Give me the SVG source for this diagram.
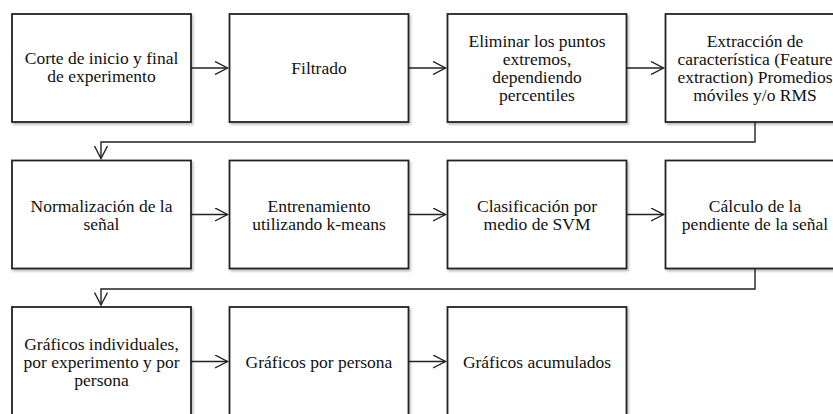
<svg xmlns="http://www.w3.org/2000/svg" width="833" height="414" viewBox="0 0 833 414">
<defs>
<filter id="sh" x="-5%" y="-5%" width="115%" height="115%">
<feDropShadow dx="1.5" dy="2" stdDeviation="1.2" flood-color="#000" flood-opacity="0.25"/>
</filter>
<marker id="arr" viewBox="0 0 14 14" refX="13" refY="7" markerWidth="14" markerHeight="14" markerUnits="userSpaceOnUse" orient="auto">
<path d="M0.5,0.5 L13,7 L0.5,13.5" fill="none" stroke="#222" stroke-width="1.4"/>
</marker>
<style>
.box{fill:#fff;stroke:#222;stroke-width:1.8;filter:url(#sh)}
.lbl{font-family:'Liberation Serif','Times New Roman',serif;font-size:17.5px;fill:#111;text-anchor:middle}
.c{fill:none;stroke:#222;stroke-width:1.4}
</style>
</defs>
<rect width="833" height="414" fill="#fff"/>
<g id="n1"><rect class="box" x="12" y="14" width="179" height="108"/><text class="lbl" x="101.5" y="64">Corte de inicio y final</text><text class="lbl" x="101.5" y="82">de experimento</text></g>
<g id="n2"><rect class="box" x="229.5" y="14" width="179" height="108"/><text class="lbl" x="319" y="74">Filtrado</text></g>
<g id="n3"><rect class="box" x="447.5" y="14" width="179" height="108"/><text class="lbl" x="537" y="46.5">Eliminar los puntos</text><text class="lbl" x="537" y="64.5">extremos,</text><text class="lbl" x="537" y="82.5">dependiendo</text><text class="lbl" x="537" y="100.5">percentiles</text></g>
<g id="n4"><rect class="box" x="665.5" y="14" width="179" height="108"/><text class="lbl" x="755" y="46.5">Extracción de</text><text class="lbl" x="755" y="64.5">característica (Feature</text><text class="lbl" x="755" y="82.5">extraction) Promedios</text><text class="lbl" x="755" y="100.5">móviles y/o RMS</text></g>
<g id="n5"><rect class="box" x="12" y="160.5" width="179" height="108"/><text class="lbl" x="101.5" y="211.5">Normalización de la</text><text class="lbl" x="101.5" y="229.5">señal</text></g>
<g id="n6"><rect class="box" x="229.5" y="160.5" width="179" height="108"/><text class="lbl" x="319" y="211.5">Entrenamiento</text><text class="lbl" x="319" y="229.5">utilizando k-means</text></g>
<g id="n7"><rect class="box" x="447.5" y="160.5" width="179" height="108"/><text class="lbl" x="537" y="211.5">Clasificación por</text><text class="lbl" x="537" y="229.5">medio de SVM</text></g>
<g id="n8"><rect class="box" x="665.5" y="160.5" width="179" height="108"/><text class="lbl" x="755" y="211.5">Cálculo de la</text><text class="lbl" x="755" y="229.5">pendiente de la señal</text></g>
<g id="n9"><rect class="box" x="12" y="307" width="179" height="108"/><text class="lbl" x="101.5" y="350">Gráficos individuales,</text><text class="lbl" x="101.5" y="368">por experimento y por</text><text class="lbl" x="101.5" y="386">persona</text></g>
<g id="n10"><rect class="box" x="229.5" y="307" width="179" height="108"/><text class="lbl" x="319" y="368">Gráficos por persona</text></g>
<g id="n11"><rect class="box" x="447.5" y="307" width="179" height="108"/><text class="lbl" x="537" y="368">Gráficos acumulados</text></g>
<g id="connectors">
<path class="c" d="M191,68 H227.5" marker-end="url(#arr)"/>
<path class="c" d="M408.5,68 H445.5" marker-end="url(#arr)"/>
<path class="c" d="M626.5,68 H663.5" marker-end="url(#arr)"/>
<path class="c" d="M755,122 V142 H101 V158.5" marker-end="url(#arr)"/>
<path class="c" d="M191,214.5 H227.5" marker-end="url(#arr)"/>
<path class="c" d="M408.5,214.5 H445.5" marker-end="url(#arr)"/>
<path class="c" d="M626.5,214.5 H663.5" marker-end="url(#arr)"/>
<path class="c" d="M755,268.5 V289 H101 V305" marker-end="url(#arr)"/>
<path class="c" d="M191,361.5 H227.5" marker-end="url(#arr)"/>
<path class="c" d="M408.5,361.5 H445.5" marker-end="url(#arr)"/>
</g>
</svg>
